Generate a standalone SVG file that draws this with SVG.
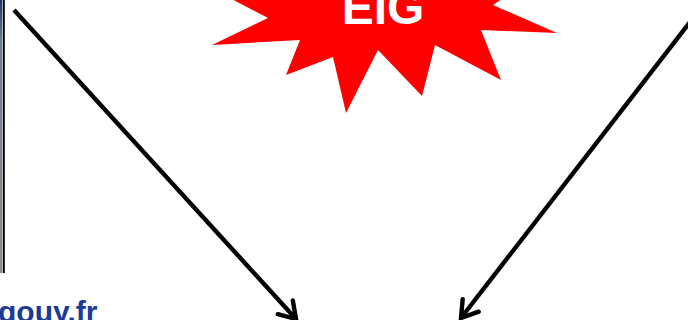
<svg xmlns="http://www.w3.org/2000/svg" width="688" height="320" viewBox="0 0 688 320">
  <style>
    .arrow { fill: none; stroke: #000; stroke-width: 4.4; }
    .burst { fill: #ff0000; stroke: none; }
    .burst-label { font-family: "Liberation Sans", Arial, sans-serif; font-weight: bold; font-size: 48px; fill: #ffffff; }
    .url { font-family: "Liberation Sans", Arial, sans-serif; font-weight: bold; font-size: 30px; fill: #1c3a98; }
  </style>
  <defs>
    <marker id="head" markerUnits="strokeWidth" viewBox="-5 -4 6 8" refX="0" refY="0" markerWidth="6" markerHeight="8" orient="auto" overflow="visible">
      <path d="M-3.6,-2.3 L0,0 L-3.6,2.3" fill="none" stroke="#000" stroke-width="1" stroke-linejoin="miter" stroke-linecap="round"/>
    </marker>
    <linearGradient id="edge" x1="0" y1="0" x2="0" y2="1">
      <stop offset="0" stop-color="#1a3466"/>
      <stop offset="0.15" stop-color="#6f7c92"/>
      <stop offset="1" stop-color="#8c8c8c"/>
    </linearGradient>
  </defs>

  <g id="picture-edge">
    <rect x="0" y="0" width="2.2" height="273" fill="url(#edge)"/>
    <rect x="2.8" y="0" width="2" height="273" fill="#000"/>
  </g>

  <g id="eig">
    <polygon class="burst" points="222,-6 268,18 212,45 300,40 286,75 333,57 346,113 378,50 422,96 435,45 501,80 481,30 557,33 493,5 515,-10 380,-60"/>
    <text class="burst-label" x="383" y="24" text-anchor="middle">EIG</text>
  </g>

  <g id="url">
    <text class="url" x="-2" y="322">gouy.fr</text>
  </g>

  <g id="connectors">
    <line class="arrow" x1="14" y1="10" x2="296" y2="319" marker-end="url(#head)"/>
    <line class="arrow" x1="690" y1="22" x2="461" y2="318" marker-end="url(#head)"/>
  </g>
</svg>
